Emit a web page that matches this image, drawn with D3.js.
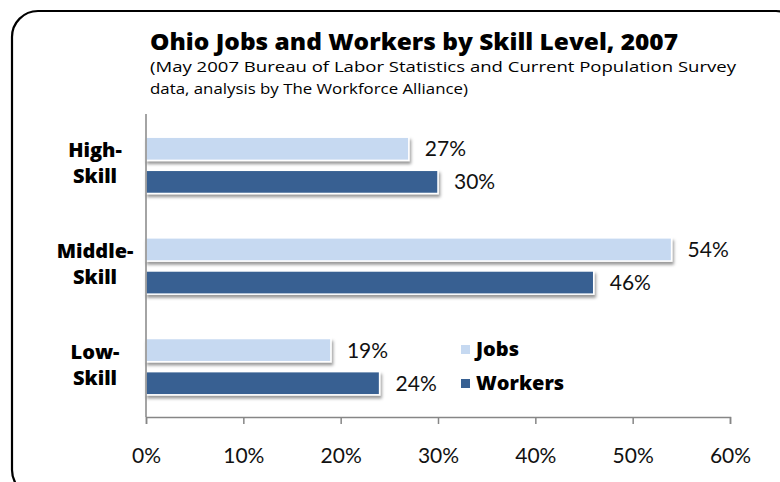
<!DOCTYPE html>
<html>
<head>
<meta charset="utf-8">
<script src="https://cdn.jsdelivr.net/npm/d3@7"></script>
<style>
  body { margin: 0; background: #fff; }
  svg { display: block; }
</style>
</head>
<body>
<svg id="chart" width="780" height="482"></svg>
<script>
// データ
var categories = ["High-Skill", "Middle-Skill", "Low-Skill"];
var series = ["Jobs", "Workers"];
var jobs = [0.27, 0.54, 0.19];
var workers = [0.30, 0.46, 0.24];
var ticks = [0, 0.1, 0.2, 0.3, 0.4, 0.5, 0.6];
var colors = ["#c6d9f1", "#376092"];

var svg = d3.select("#chart");

// 影フィルタ
var defs = svg.append("defs");
defs.append("filter").attr("id", "shadow")
    .attr("x", "-10%").attr("y", "-30%").attr("width", "130%").attr("height", "190%")
    .append("feDropShadow")
    .attr("dx", 1.5).attr("dy", 3).attr("stdDeviation", 1.6)
    .attr("flood-color", "#000").attr("flood-opacity", 0.4);

// 枠
svg.append("rect")
    .attr("x", 12).attr("y", 11).attr("width", 790).attr("height", 485)
    .attr("rx", 26).attr("ry", 26)
    .attr("fill", "#fff").attr("stroke", "#000").attr("stroke-width", 2.2);

// タイトル
var titleFont = "'Open Sans', 'DejaVu Sans', sans-serif";
svg.append("text")
    .attr("x", 150).attr("y", 50)
    .attr("font-family", titleFont).attr("font-weight", 800).attr("font-size", 22)
    .attr("textLength", 528).attr("lengthAdjust", "spacingAndGlyphs")
    .text("Ohio Jobs and Workers by Skill Level, 2007");
svg.append("text")
    .attr("x", 150).attr("y", 72)
    .attr("font-family", titleFont).attr("font-size", 15)
    .attr("textLength", 586).attr("lengthAdjust", "spacingAndGlyphs")
    .text("(May 2007 Bureau of Labor Statistics and Current Population Survey");
svg.append("text")
    .attr("x", 150).attr("y", 94)
    .attr("font-family", titleFont).attr("font-size", 15)
    .attr("textLength", 318).attr("lengthAdjust", "spacingAndGlyphs")
    .text("data, analysis by The Workforce Alliance)");

// スケール
var x = d3.scaleLinear().domain([0, 0.6]).range([146, 730]);
var y0 = d3.scaleBand().domain(categories).range([115, 417]);
var y1 = d3.scaleBand().domain(series).range([0, y0.bandwidth()])
    .paddingInner(0.3).paddingOuter(0.67);

var rows = categories.map(function (c, i) {
    return { cat: c, values: [jobs[i], workers[i]] };
});

// バー
var g = svg.append("g").selectAll("g").data(rows).enter().append("g")
    .attr("transform", function (d) { return "translate(0," + y0(d.cat) + ")"; });

var bars = g.selectAll("g.bar").data(function (d) {
    return d.values.map(function (v, j) { return { s: series[j], v: v, j: j }; });
}).enter().append("g").attr("class", "bar");

bars.append("rect")
    .attr("x", x(0))
    .attr("y", function (d) { return y1(d.s); })
    .attr("width", function (d) { return x(d.v) - x(0); })
    .attr("height", y1.bandwidth())
    .attr("fill", function (d) { return colors[d.j]; })
    .attr("stroke", "#fff").attr("stroke-width", 1.5)
    .attr("filter", "url(#shadow)");

bars.append("text")
    .attr("x", function (d) { return x(d.v) + 16; })
    .attr("y", function (d) { return y1(d.s) + y1.bandwidth() / 2; })
    .attr("dy", "0.36em")
    .attr("font-family", "Lato, sans-serif").attr("font-size", 21)
    .attr("fill", "#111")
    .text(function (d) { return d3.format(".0%")(d.v); });

// カテゴリラベル
var catText = svg.append("g").selectAll("text").data(categories).enter().append("text")
    .attr("x", 95)
    .attr("y", function (d) { return y0(d) + y0.bandwidth() / 2; })
    .attr("text-anchor", "middle")
    .attr("font-family", titleFont).attr("font-weight", 800).attr("font-size", 20);
catText.append("tspan").attr("x", 95).attr("dy", -8)
    .text(function (d) { return d.split("-")[0] + "-"; });
catText.append("tspan").attr("x", 95).attr("dy", 26)
    .text(function (d) { return d.split("-")[1]; });

// 軸
var axisColor = "#868686";
svg.append("line")
    .attr("x1", x(0)).attr("x2", x(0))
    .attr("y1", y0.range()[0] - 1).attr("y2", y0.range()[1])
    .attr("stroke", axisColor).attr("stroke-width", 1.5);

var xAxis = svg.append("g")
    .attr("transform", "translate(0," + y0.range()[1] + ")")
    .call(d3.axisBottom(x).tickValues(ticks).tickSize(7).tickPadding(24)
        .tickFormat(d3.format(".0%")));
xAxis.select(".domain").attr("stroke", axisColor).attr("stroke-width", 1.5);
xAxis.selectAll(".tick line").attr("stroke", axisColor).attr("stroke-width", 1.5);
xAxis.selectAll(".tick text")
    .attr("font-family", "Lato, sans-serif").attr("font-size", 21).attr("fill", "#111");

// 凡例
var legend = svg.append("g").selectAll("g").data(series).enter().append("g")
    .attr("transform", function (d, i) { return "translate(461," + (345 + i * 34) + ")"; });
legend.append("rect")
    .attr("width", 9).attr("height", 9)
    .attr("fill", function (d, i) { return colors[i]; });
legend.append("text")
    .attr("x", 15).attr("y", 11)
    .attr("font-family", titleFont).attr("font-weight", 800).attr("font-size", 20)
    .text(function (d) { return d; });
</script>
</body>
</html>
